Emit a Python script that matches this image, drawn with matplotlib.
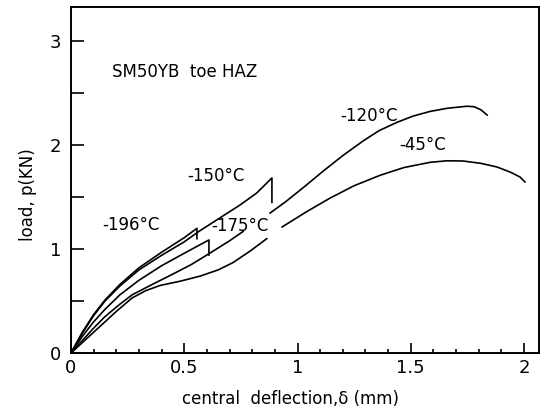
import matplotlib.pyplot as plt
from matplotlib.ticker import MultipleLocator

# curves: central deflection (mm), load (kN)
# a None splits the line where a label sits on it
d_196 = [0, 0.05, 0.1, 0.15, 0.216, 0.3, 0.4, 0.5, 0.556, 0.556]
p_196 = [0, 0.2, 0.37, 0.51, 0.66, 0.82, 0.97, 1.11, 1.2, 1.1]

d_150 = [0, 0.05, 0.1, 0.15, 0.216, 0.3, 0.4, 0.5, 0.561, 0.65, 0.746, 0.82, 0.887, 0.887]
p_150 = [0, 0.19, 0.36, 0.5, 0.645, 0.8, 0.94, 1.07, 1.165, 1.29, 1.424, 1.54, 1.685, 1.45]

d_175 = [0, 0.05, 0.1, 0.15, 0.216, 0.3, 0.4, 0.5, 0.609, 0.609]
p_175 = [0, 0.16, 0.3, 0.42, 0.56, 0.7, 0.84, 0.96, 1.088, 0.943]

d_120 = [0, 0.05, 0.1, 0.15, 0.216, 0.27, 0.35, 0.45, 0.53, 0.605, 0.7, 0.76, None,
         0.879, 0.95, 1.03, 1.113, 1.2, 1.289, 1.36, 1.439, 1.51, 1.585, 1.66, 1.748, 1.78, 1.81, 1.837]
p_120 = [0, 0.12, 0.24, 0.35, 0.47, 0.56, 0.65, 0.76, 0.85, 0.95, 1.08, 1.17, None,
         1.347, 1.46, 1.6, 1.75, 1.9, 2.04, 2.14, 2.22, 2.28, 2.325, 2.355, 2.375, 2.37, 2.34, 2.29]

d_45 = [0, 0.05, 0.1, 0.15, 0.2, 0.27, 0.33, 0.393, 0.48, 0.57, 0.65, 0.715, 0.79, 0.864, None,
        0.932, 1.04, 1.143, 1.25, 1.364, 1.47, 1.585, 1.66, 1.731, 1.81, 1.881, 1.94, 1.982, 2.004]
p_45 = [0, 0.1, 0.2, 0.3, 0.4, 0.53, 0.6, 0.65, 0.69, 0.74, 0.8, 0.87, 0.98, 1.1, None,
        1.213, 1.36, 1.49, 1.61, 1.71, 1.785, 1.835, 1.85, 1.848, 1.825, 1.79, 1.74, 1.694, 1.646]

labels = ['-196°C', '-150°C', '-175°C', '-120°C', '-45°C']
label_x = [0.137, 0.512, 0.62, 1.19, 1.45]
label_y = [1.23, 1.70, 1.22, 2.28, 2.0]


def split(xs, ys):
    parts, cx, cy = [], [], []
    for x, y in zip(xs, ys):
        if x is None:
            parts.append((cx, cy))
            cx, cy = [], []
        else:
            cx.append(x)
            cy.append(y)
    parts.append((cx, cy))
    return parts


fig = plt.figure(figsize=(5.43, 4.15), dpi=100)
ax = fig.add_axes([71 / 543, 1 - 353 / 415, 468 / 543, 346 / 415])

for xs, ys in [(d_196, p_196), (d_150, p_150), (d_175, p_175), (d_120, p_120), (d_45, p_45)]:
    for px, py in split(xs, ys):
        ax.plot(px, py, color='black', lw=1.2)

for txt, x, y in zip(labels, label_x, label_y):
    ax.text(x, y, txt, fontsize=12, va='center', ha='left')

ax.text(0.18, 2.7, 'SM50YB  toe HAZ', fontsize=12, va='center', ha='left')

ax.set_xlim(0, 2.066)
ax.set_ylim(0, 3.33)
ax.xaxis.set_major_locator(MultipleLocator(0.5))
ax.xaxis.set_minor_locator(MultipleLocator(0.1))
ax.yaxis.set_major_locator(MultipleLocator(1))
ax.yaxis.set_minor_locator(MultipleLocator(0.5))
ax.xaxis.set_major_formatter(plt.FuncFormatter(lambda v, p: '%g' % v))
ax.tick_params(which='both', direction='in', labelsize=13, width=1.2)
ax.tick_params(axis='x', which='major', length=7, pad=4)
ax.tick_params(axis='x', which='minor', length=3)
ax.tick_params(axis='y', which='both', length=9, pad=7)
for s in ax.spines.values():
    s.set_linewidth(1.4)

fig.text(291 / 543, 1 - 399 / 415, 'central  deflection,δ (mm)', fontsize=12, ha='center', va='center')
fig.text(28 / 543, 1 - 195 / 415, 'load, p(KN)', fontsize=12, ha='center', va='center', rotation=90)

fig.savefig('out.png', dpi=100)
